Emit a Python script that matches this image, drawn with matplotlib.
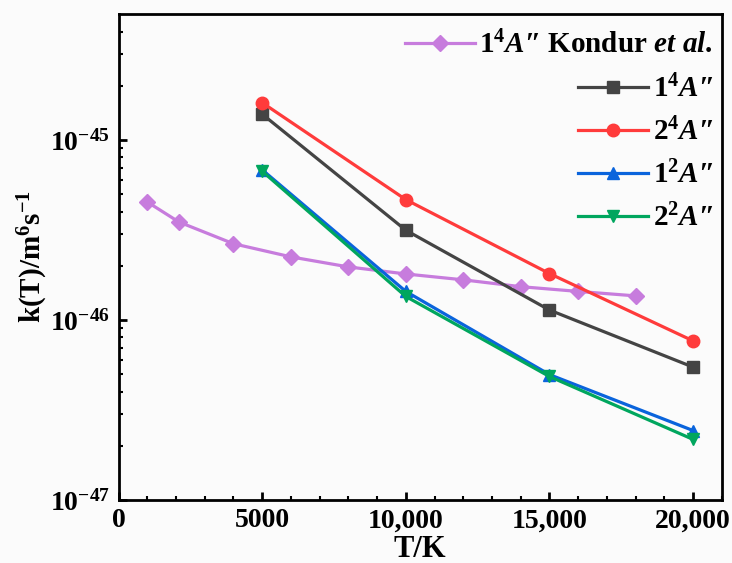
import matplotlib
matplotlib.use("Agg")
import matplotlib.pyplot as plt
from matplotlib.ticker import MultipleLocator, FixedLocator, NullFormatter

plt.rcParams['font.family'] = ['Liberation Serif', 'DejaVu Serif']
plt.rcParams['font.weight'] = 'bold'
plt.rcParams['mathtext.fontset'] = 'custom'
plt.rcParams['mathtext.rm'] = 'Liberation Serif:bold'
plt.rcParams['mathtext.bf'] = 'Liberation Serif:bold'
plt.rcParams['mathtext.it'] = 'Liberation Serif:bold:italic'

# Data
T_kondur = [1000, 2100, 4000, 6000, 8000, 10000, 12000, 14000, 16000, 18000]
k_kondur = [4.52e-46, 3.50e-46, 2.65e-46, 2.24e-46, 1.97e-46, 1.80e-46, 1.67e-46, 1.53e-46, 1.44e-46, 1.36e-46]

T = [5000, 10000, 15000, 20000]
k_14A = [1.39e-45, 3.15e-46, 1.135e-46, 5.47e-47]
k_24A = [1.61e-45, 4.66e-46, 1.81e-46, 7.65e-47]
k_12A = [6.82e-46, 1.44e-46, 4.97e-47, 2.43e-47]
k_22A = [6.70e-46, 1.35e-46, 4.85e-47, 2.17e-47]

x_ticks = [0, 5000, 10000, 15000, 20000]
x_ticklabels = ['0', '5000', '10,000', '15,000', '20,000']
y_ticks = [1e-47, 1e-46, 1e-45]
y_ticklabels = [r'$10^{-47}$', r'$10^{-46}$', r'$10^{-45}$']

fig = plt.figure(figsize=(7.32, 5.63), dpi=100, facecolor='#fbfbfb')
ax = fig.add_axes([0.162, 0.112, 0.824, 0.863])
ax.set_facecolor('#fbfbfb')

lw = 2.3
ms = 8.5
l0, = ax.plot(T_kondur, k_kondur, '-D', color='#c77cdd', lw=lw, ms=ms - 0.5)
l1, = ax.plot(T, k_14A, '-s', color='#444444', lw=lw, ms=ms)
l2, = ax.plot(T, k_24A, '-o', color='#ff3b3b', lw=lw, ms=ms + 0.5)
l3, = ax.plot(T, k_12A, '-^', color='#0a64dc', lw=lw, ms=ms + 0.5)
l4, = ax.plot(T, k_22A, '-v', color='#00a65e', lw=lw, ms=ms + 0.5)

ax.set_yscale('log')
ax.set_xlim(0, 21000)
ax.set_ylim(1e-47, 5e-45)
ax.set_xticks(x_ticks)
ax.set_xticklabels(x_ticklabels)
ax.xaxis.set_minor_locator(MultipleLocator(1000))
ax.set_yticks(y_ticks)
ax.set_yticklabels(y_ticklabels)
minor_y = [m * 10.0 ** e for e in (-47, -46, -45) for m in range(2, 10) if m * 10.0 ** e < 5e-45]
ax.yaxis.set_minor_locator(FixedLocator(minor_y))
ax.yaxis.set_minor_formatter(NullFormatter())

for s in ax.spines.values():
    s.set_linewidth(2.0)
ax.tick_params(which='major', direction='in', length=6, width=2.0, labelsize=20, pad=6)
ax.tick_params(which='minor', direction='in', length=3, width=1.5)
ax.tick_params(top=False, right=False)

ax.set_xlabel('T/K', fontsize=22, fontweight='bold', labelpad=1)
ax.set_ylabel(r'k(T)/m$^{6}$s$^{\mathregular{-1}}$', fontsize=21, fontweight='bold', labelpad=0)

leg1 = ax.legend([l0], [r'$1^4A$″ Kondur $et\ al.$'], loc='upper right',
                 bbox_to_anchor=(1.005, 0.99), frameon=False, fontsize=21,
                 handlelength=2.4, handletextpad=0.15, borderaxespad=0.0)
ax.add_artist(leg1)
leg2 = ax.legend([l1, l2, l3, l4],
                 [r'$1^4A$″', r'$2^4A$″', r'$1^2A$″', r'$2^2A$″'],
                 loc='upper right', bbox_to_anchor=(1.005, 0.9), frameon=False,
                 fontsize=21, handlelength=2.4, handletextpad=0.15,
                 labelspacing=0.5, borderaxespad=0.0)

fig.savefig('out.png', dpi=100, facecolor=fig.get_facecolor())
